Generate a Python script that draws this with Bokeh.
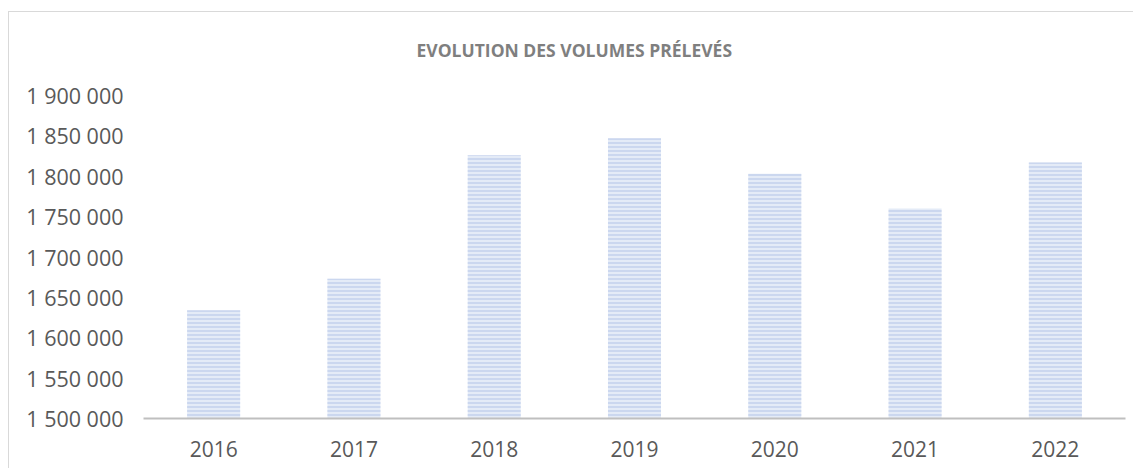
from bokeh.plotting import figure
from bokeh.models import Range1d, FactorRange, FixedTicker, Title
from bokeh.embed import file_html
from bokeh.resources import INLINE

years = ["2016", "2017", "2018", "2019", "2020", "2021", "2022"]
volumes = [1634000, 1673000, 1826000, 1847000, 1803000, 1760000, 1817000]
y_ticks = [1500000, 1550000, 1600000, 1650000, 1700000, 1750000, 1800000, 1850000, 1900000]
y_tick_labels = ["1 500 000", "1 550 000", "1 600 000", "1 650 000", "1 700 000",
                 "1 750 000", "1 800 000", "1 850 000", "1 900 000"]
title_text = "EVOLUTION DES VOLUMES PRÉLEVÉS"
base_value = 1500000

FONT = "Open Sans"
LABEL_COLOR = "#595959"

p = figure(
    frame_width=982, frame_height=323,
    x_range=FactorRange(*years, range_padding=0),
    y_range=Range1d(1500000, 1900000),
    output_backend="svg", toolbar_location=None,
    min_border_left=134, min_border_right=8, min_border_bottom=50, min_border_top=83,
    title=None,
)
p.margin = (11, 0, 0, 8)
p.styles = {"border-left": "1px solid #d9d9d9", "border-top": "1px solid #d9d9d9"}

# spacer between frame and title (closest to the frame)
p.add_layout(Title(text=" ", text_font_size="1px", standoff=30), "above")
main_title = Title(text=title_text, align="left", vertical_align="middle", standoff=0,
                   text_font=FONT, text_font_size="17.5px", text_font_style="bold",
                   text_color="#7f7f7f", offset=273)
p.add_layout(main_title, "above")

p.vbar(x=years, top=volumes, bottom=base_value, width=0.378,
       fill_color="#e4ebf7", line_color=None,
       hatch_pattern="horizontal_line", hatch_color="#c3d1ec",
       hatch_scale=4, hatch_weight=1.5)

p.outline_line_color = None
p.xgrid.grid_line_color = None
p.ygrid.grid_line_color = None

p.xaxis.axis_line_color = "#bfbfbf"
p.xaxis.axis_line_width = 2
p.xaxis.major_tick_line_color = None
p.xaxis.minor_tick_line_color = None
p.xaxis.major_tick_out = 0
p.xaxis.major_label_text_font = FONT
p.xaxis.major_label_text_font_size = "21px"
p.xaxis.major_label_text_color = LABEL_COLOR
p.xaxis.major_label_standoff = 22

p.yaxis.ticker = FixedTicker(ticks=y_ticks)
p.yaxis.major_label_overrides = {t: l for t, l in zip(y_ticks, y_tick_labels)}
p.yaxis.axis_line_color = None
p.yaxis.major_tick_line_color = None
p.yaxis.minor_tick_line_color = None
p.yaxis.major_tick_out = 0
p.yaxis.major_label_text_font = FONT
p.yaxis.major_label_text_font_size = "21.5px"
p.yaxis.major_label_text_color = LABEL_COLOR
p.yaxis.major_label_standoff = 20

open("out.html", "w").write(file_html(p, INLINE))
